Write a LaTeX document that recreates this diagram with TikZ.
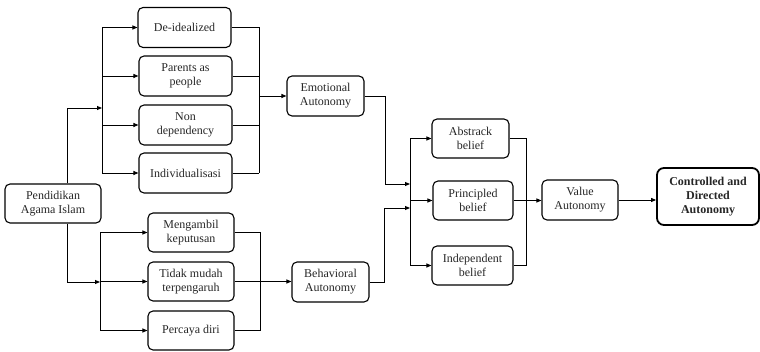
\documentclass[tikz,border=0pt]{standalone}
\usepackage{fontspec}
\setmainfont{Liberation Serif}
\newfontfamily\tnr{Liberation Serif}
\usetikzlibrary{arrows.meta}
\begin{document}
\begin{tikzpicture}[x=1pt,y=-1pt,
  box/.style={draw, line width=1.1pt, rounded corners=5pt, align=center, inner sep=1pt,
    font=\tnr\fontsize{12}{14}\selectfont, text=black!85},
  con/.style={line width=0.9pt},
  arr/.style={line width=0.9pt, -{Triangle[length=5pt,width=4pt]}}]
\useasboundingbox (0,0) rectangle (760,352);
% nodes
\node[box, minimum width=93pt, minimum height=40pt] (ded) at (184.5,27.5) {De-idealized};
\node[box, minimum width=93pt, minimum height=40pt] (par) at (185.5,76) {Parents as\\people};
\node[box, minimum width=93pt, minimum height=40pt] (non) at (185.5,125) {Non\\dependency};
\node[box, minimum width=93pt, minimum height=40pt] (ind) at (185.5,173) {Individualisasi};
\node[box, minimum width=96pt, minimum height=39pt] (pen) at (53,203.5) {Pendidikan\\Agama Islam};
\node[box, minimum width=86pt, minimum height=39pt] (men) at (191,232.5) {Mengambil\\keputusan};
\node[box, minimum width=86pt, minimum height=39pt] (tid) at (191,281.5) {Tidak mudah\\terpengaruh};
\node[box, minimum width=86pt, minimum height=39pt] (per) at (191,330.5) {Percaya diri};
\node[box, minimum width=77pt, minimum height=40pt] (emo) at (325.5,96) {Emotional\\Autonomy};
\node[box, minimum width=77pt, minimum height=40pt] (beh) at (330.5,282) {Behavioral\\Autonomy};
\node[box, minimum width=77pt, minimum height=39pt] (abs) at (470.5,138.5) {Abstrack\\belief};
\node[box, minimum width=80pt, minimum height=39pt] (pri) at (473,200.5) {Principled\\belief};
\node[box, minimum width=81pt, minimum height=39pt] (ide) at (472.5,265.5) {Independent\\belief};
\node[box, minimum width=76pt, minimum height=40pt] (val) at (580,200) {Value\\Autonomy};
\node[box, line width=1.8pt, rounded corners=7pt, minimum width=102pt, minimum height=57pt, font=\tnr\bfseries\fontsize{12}{14}\selectfont] (ctl) at (708,196.5) {Controlled and\\Directed\\Autonomy};
% coordinates
\coordinate (b1) at (102,108);
\coordinate (b2) at (100,282);
\coordinate (r1) at (259,96);
\coordinate (e1) at (385,184);
\coordinate (e2) at (384,208);
\coordinate (m1) at (410,184);
\coordinate (m2) at (410,208);
\coordinate (r3) at (526,200);
% Pendidikan to upper group
\draw[arr] ([xshift=14pt]pen.north) |- (b1);
\draw[con] (b1 |- ded.west) -- (b1 |- ind.west);
\foreach \n in {ded,par,non,ind} \draw[arr] (b1 |- \n.west) -- (\n.west);
\foreach \n in {ded,par,non,ind} \draw[con] (\n.east) -- (r1 |- \n.east);
\draw[con] (r1 |- ded.east) -- (r1 |- ind.east);
\draw[arr] (r1) -- (emo.west);
% Pendidikan to lower group
\draw[arr] ([xshift=14pt]pen.south) |- (b2);
\draw[con] (b2 |- men.west) -- (b2 |- per.west);
\foreach \n in {men,tid,per} \draw[arr] (b2 |- \n.west) -- (\n.west);
\coordinate (r2) at (260,232.5);
\draw[con] (men.east) -- (r2) -- (r2 |- per.east) -- (per.east);
\draw[arr] (tid.east) -- (tid.east -| beh.west);
% to belief bus
\draw[arr] (emo.east) -| (e1) -- (m1);
\draw[arr] (beh.east) -| (e2) -- (m2);
\draw[con] (m1 |- abs.west) -- (m1 |- ide.west);
\foreach \n in {abs,pri,ide} \draw[arr] (m1 |- \n.west) -- (\n.west);
\draw[con] (abs.east) -- (r3 |- abs.east) -- (r3 |- ide.east) -- (ide.east);
\draw[arr] (pri.east) -- (pri.east -| val.west);
\draw[arr] (val.east) -- (val.east -| ctl.west);
\end{tikzpicture}
\end{document}
